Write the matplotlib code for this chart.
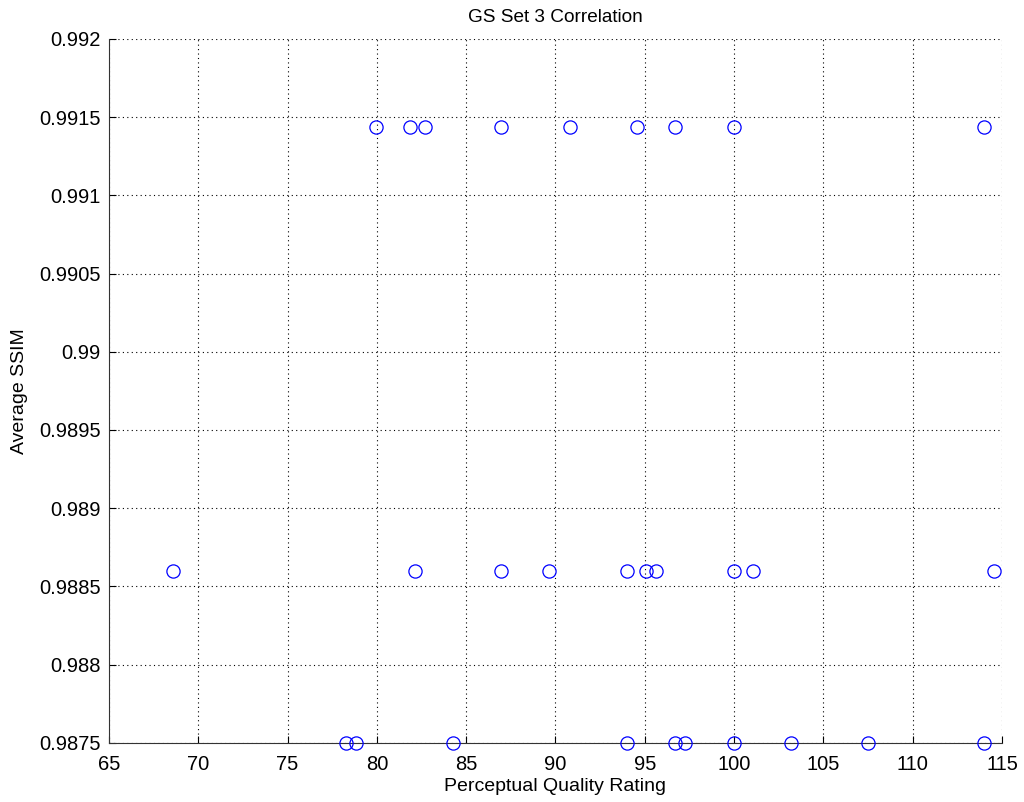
import numpy as np
import matplotlib.pyplot as plt

plt.rcParams['font.family'] = ['Liberation Sans', 'DejaVu Sans']

# perceptual quality rating vs average SSIM, three SSIM levels
top_x = [79.97, 81.88, 82.68, 86.97, 90.8, 94.56, 96.69, 100.0, 114.0]
top_y = 0.99144
mid_x = [68.58, 82.15, 86.97, 89.64, 94.0, 95.05, 95.61, 100.0, 101.06, 114.55]
mid_y = 0.98860
low_x = [78.29, 78.85, 84.26, 94.0, 96.67, 97.23, 100.0, 103.2, 107.5, 114.0]
low_y = 0.9875

xs = np.array(top_x + mid_x + low_x)
ys = np.array([top_y]*len(top_x) + [mid_y]*len(mid_x) + [low_y]*len(low_x))

xticks = np.arange(65, 116, 5)
yticks = [0.9875, 0.988, 0.9885, 0.989, 0.9895, 0.99, 0.9905, 0.991, 0.9915, 0.992]
ylabels = ['0.9875', '0.988', '0.9885', '0.989', '0.9895', '0.99', '0.9905', '0.991', '0.9915', '0.992']

fig = plt.figure(figsize=(10.24, 8.02), dpi=100)
ax = fig.add_axes([0.1064, 0.0739, 0.8721, 0.8775])
ax.plot(xs, ys, 'o', markerfacecolor='none', markeredgecolor='#0000ff',
        markersize=9.5, markeredgewidth=0.9, clip_on=False, zorder=3)

ax.set_xlim(65, 115)
ax.set_ylim(0.9875, 0.992)
ax.set_xticks(xticks)
ax.set_yticks(yticks)
ax.set_yticklabels(ylabels)
ax.grid(True, linestyle=(0, (1, 3)), color='black', linewidth=0.8)
ax.tick_params(direction='in', labelsize=14.5, length=5, top=False, right=False)
ax.tick_params(axis='x', pad=9)
ax.tick_params(axis='y', pad=6)
for s in ['top', 'right']:
    ax.spines[s].set_visible(False)
for s in ['left', 'bottom']:
    ax.spines[s].set_color('#333333')

ax.set_title('GS Set 3 Correlation', fontsize=13.7, pad=12)
ax.set_xlabel('Perceptual Quality Rating', fontsize=14, labelpad=3)
ax.set_ylabel('Average SSIM', fontsize=14, labelpad=8)

fig.savefig('out.png', dpi=100)
